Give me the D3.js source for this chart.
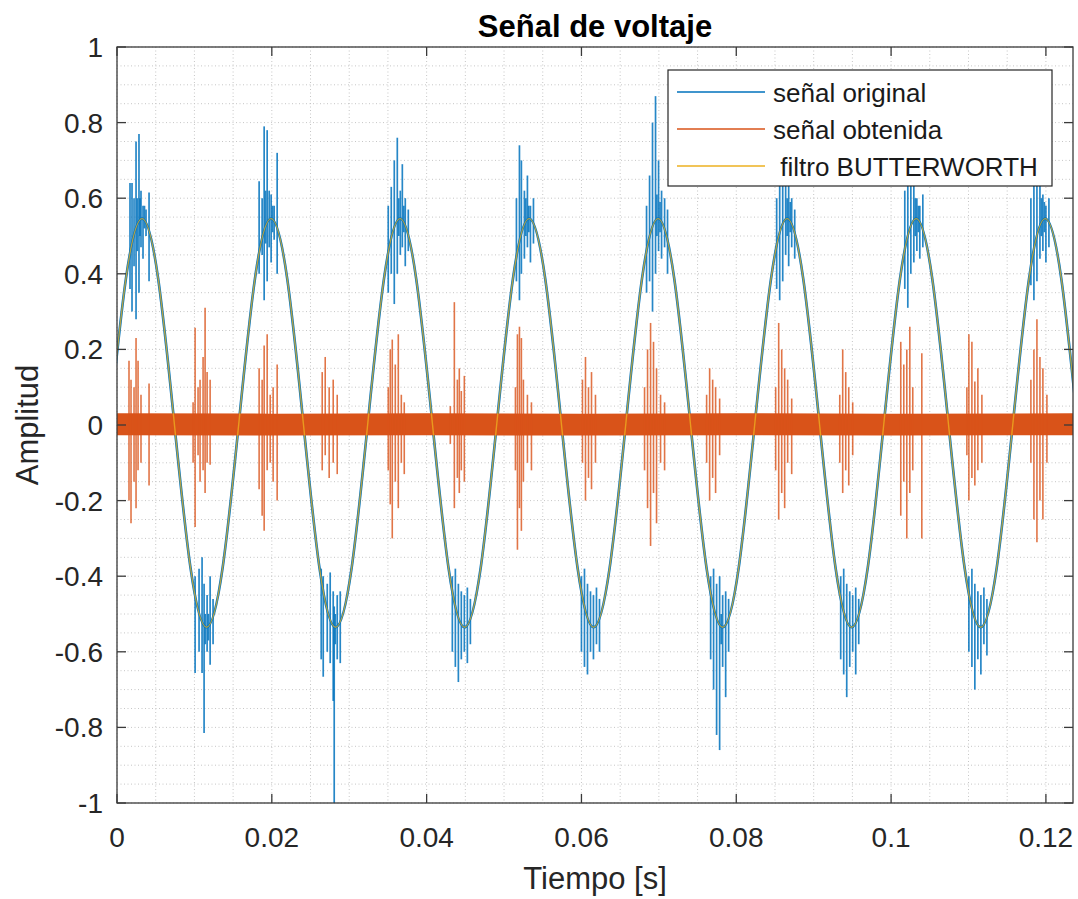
<!DOCTYPE html>
<html>
<head>
<meta charset="utf-8">
<script src="https://cdn.jsdelivr.net/npm/d3@7"></script>
<style>
  html, body { margin: 0; padding: 0; background: #fff; }
  svg { display: block; font-family: "Liberation Sans", Arial, Helvetica, sans-serif; }
  .pre { white-space: pre; }
</style>
</head>
<body>
<svg id="chart" width="1078" height="899"></svg>
<script>
// ---------------- DATA ----------------
const titleText = "Señal de voltaje";
const xLabelText = "Tiempo [s]";
const yLabelText = "Amplitud";
const seriesNames = ["señal original", "señal obtenida", " filtro BUTTERWORTH"];

const xTicks = [0, 0.02, 0.04, 0.06, 0.08, 0.1, 0.12];
const xTickLabels = ["0", "0.02", "0.04", "0.06", "0.08", "0.1", "0.12"];
const yTicks = [-1, -0.8, -0.6, -0.4, -0.2, 0, 0.2, 0.4, 0.6, 0.8, 1];
const yTickLabels = ["-1", "-0.8", "-0.6", "-0.4", "-0.2", "0", "0.2", "0.4", "0.6", "0.8", "1"];
const xDomain = [0, 0.1235];
const yDomain = [-1, 1];

// filtered (Butterworth) curve: sample points (eighth-period spacing)
const filterTimes = [
  -0.00093, 0.00115, 0.00324, 0.00532, 0.00740, 0.00949, 0.01157, 0.01365,
  0.01574, 0.01782, 0.01990, 0.02199, 0.02407, 0.02615, 0.02824, 0.03032,
  0.03240, 0.03449, 0.03657, 0.03865, 0.04074, 0.04282, 0.04490, 0.04699,
  0.04907, 0.05115, 0.05324, 0.05532, 0.05740, 0.05949, 0.06157, 0.06365,
  0.06574, 0.06782, 0.06990, 0.07199, 0.07407, 0.07615, 0.07824, 0.08032,
  0.08240, 0.08449, 0.08657, 0.08865, 0.09074, 0.09282, 0.09490, 0.09699,
  0.09907, 0.10115, 0.10324, 0.10532, 0.10740, 0.10949, 0.11157, 0.11365,
  0.11574, 0.11782, 0.11990, 0.12199, 0.12407, 0.12615
];
const filterValues = [
  0.005, 0.387, 0.546, 0.387, 0.005, -0.377, -0.535, -0.377,
  0.005, 0.387, 0.546, 0.387, 0.005, -0.377, -0.535, -0.377,
  0.005, 0.387, 0.546, 0.387, 0.005, -0.377, -0.535, -0.377,
  0.005, 0.387, 0.546, 0.387, 0.005, -0.377, -0.535, -0.377,
  0.005, 0.387, 0.546, 0.387, 0.005, -0.377, -0.535, -0.377,
  0.005, 0.387, 0.546, 0.387, 0.005, -0.377, -0.535, -0.377,
  0.005, 0.387, 0.546, 0.387, 0.005, -0.377, -0.535, -0.377,
  0.005, 0.387, 0.546, 0.387, 0.005, -0.377
];

// original signal: noise bursts [time, low, high]
const blueSpikes = [
  // peak 1
  [0.00168, 0.36, 0.64], [0.00194, 0.30, 0.64], [0.00220, 0.42, 0.60], [0.00246, 0.28, 0.75],
  [0.00284, 0.35, 0.77], [0.00310, 0.47, 0.62], [0.00336, 0.44, 0.58], [0.00375, 0.50, 0.57], [0.00414, 0.38, 0.615],
  [0.00262, 0.46, 0.60], [0.00297, 0.50, 0.60], [0.00355, 0.52, 0.58],
  // trough 1
  [0.01009, -0.656, -0.40], [0.01060, -0.60, -0.38], [0.01099, -0.656, -0.35], [0.01125, -0.815, -0.42],
  [0.01164, -0.60, -0.45], [0.01203, -0.634, -0.40], [0.01241, -0.58, -0.46],
  [0.01140, -0.58, -0.50], [0.01180, -0.57, -0.50],
  // peak 2
  [0.01836, 0.40, 0.645], [0.01875, 0.45, 0.60], [0.01901, 0.33, 0.79], [0.01940, 0.38, 0.78],
  [0.01966, 0.47, 0.62], [0.01991, 0.43, 0.61], [0.02030, 0.49, 0.58], [0.02069, 0.40, 0.72],
  [0.01920, 0.48, 0.62], [0.02010, 0.51, 0.58],
  // trough 2
  [0.02638, -0.62, -0.38], [0.02664, -0.666, -0.40], [0.02716, -0.60, -0.42], [0.02754, -0.63, -0.39],
  [0.02793, -0.73, -0.44], [0.02806, -1.0, -0.48], [0.02845, -0.62, -0.45], [0.02884, -0.63, -0.44],
  [0.02820, -0.58, -0.50],
  // peak 3
  [0.03504, 0.35, 0.58], [0.03543, 0.40, 0.63], [0.03582, 0.32, 0.70], [0.03621, 0.40, 0.76],
  [0.03660, 0.45, 0.62], [0.03686, 0.47, 0.69], [0.03724, 0.42, 0.60], [0.03763, 0.46, 0.57],
  [0.03640, 0.50, 0.60], [0.03705, 0.51, 0.58],
  // trough 3
  [0.04332, -0.60, -0.40], [0.04371, -0.64, -0.38], [0.04410, -0.68, -0.42], [0.04448, -0.62, -0.44],
  [0.04487, -0.60, -0.45], [0.04526, -0.63, -0.43], [0.04565, -0.58, -0.46],
  // peak 4
  [0.05160, 0.38, 0.60], [0.05199, 0.33, 0.74], [0.05224, 0.40, 0.70], [0.05263, 0.44, 0.62],
  [0.05302, 0.47, 0.66], [0.05341, 0.43, 0.58], [0.05380, 0.48, 0.60],
  [0.05282, 0.50, 0.60], [0.05320, 0.51, 0.58],
  // trough 4
  [0.06000, -0.60, -0.40], [0.06039, -0.64, -0.38], [0.06078, -0.66, -0.42], [0.06117, -0.60, -0.44],
  [0.06155, -0.62, -0.45], [0.06194, -0.58, -0.43], [0.06233, -0.60, -0.46],
  // peak 5
  [0.06841, 0.35, 0.58], [0.06880, 0.38, 0.66], [0.06918, 0.30, 0.80], [0.06957, 0.40, 0.87],
  [0.06996, 0.46, 0.70], [0.07035, 0.44, 0.62], [0.07074, 0.47, 0.60], [0.07112, 0.40, 0.57],
  [0.06975, 0.50, 0.61], [0.07015, 0.51, 0.59],
  // trough 5
  [0.07669, -0.62, -0.40], [0.07707, -0.70, -0.38], [0.07746, -0.82, -0.42], [0.07785, -0.86, -0.40],
  [0.07824, -0.64, -0.45], [0.07863, -0.72, -0.44], [0.07901, -0.60, -0.46],
  [0.07805, -0.58, -0.50],
  // peak 6
  [0.08522, 0.36, 0.60], [0.08561, 0.33, 0.66], [0.08600, 0.38, 0.78], [0.08638, 0.45, 0.70],
  [0.08677, 0.42, 0.72], [0.08716, 0.47, 0.60], [0.08755, 0.44, 0.57],
  [0.08657, 0.50, 0.60], [0.08697, 0.51, 0.59],
  // trough 6
  [0.09349, -0.62, -0.40], [0.09388, -0.66, -0.38], [0.09427, -0.72, -0.42], [0.09466, -0.64, -0.44],
  [0.09504, -0.60, -0.45], [0.09543, -0.66, -0.43], [0.09582, -0.58, -0.46],
  // peak 7
  [0.10177, 0.36, 0.62], [0.10216, 0.31, 0.74], [0.10255, 0.40, 0.66], [0.10294, 0.43, 0.70],
  [0.10333, 0.46, 0.60], [0.10371, 0.44, 0.58], [0.10410, 0.47, 0.61],
  [0.10313, 0.50, 0.60], [0.10352, 0.51, 0.58],
  // trough 7
  [0.11005, -0.60, -0.40], [0.11044, -0.64, -0.38], [0.11082, -0.70, -0.42], [0.11121, -0.62, -0.44],
  [0.11160, -0.66, -0.45], [0.11199, -0.58, -0.43], [0.11238, -0.61, -0.46],
  // peak 8
  [0.11806, 0.37, 0.60], [0.11845, 0.33, 0.66], [0.11884, 0.38, 0.72], [0.11923, 0.44, 0.70],
  [0.11961, 0.46, 0.61], [0.12000, 0.43, 0.58], [0.12039, 0.47, 0.60],
  [0.11942, 0.50, 0.60], [0.11980, 0.51, 0.59]
];

// obtained signal: constant noise band envelope and bursts [time, low, high]
const bandTimes = [0, 0.02, 0.04, 0.06, 0.08, 0.10, 0.1235];
const bandUpper = [0.031, 0.030, 0.031, 0.030, 0.031, 0.030, 0.031];
const bandLower = [-0.027, -0.028, -0.027, -0.028, -0.027, -0.028, -0.027];
const orangeSpikes = [
  [0.00155, -0.20, 0.17], [0.00181, -0.26, 0.12], [0.00220, -0.15, 0.10], [0.00246, -0.22, 0.23],
  [0.00272, -0.12, 0.17], [0.00310, -0.10, 0.08], [0.00414, -0.16, 0.11],
  [0.00983, -0.10, 0.06], [0.01009, -0.27, 0.257], [0.01047, -0.08, 0.10], [0.01073, -0.15, 0.12],
  [0.01112, -0.12, 0.18], [0.01138, -0.18, 0.31], [0.01164, -0.10, 0.14], [0.01203, -0.105, 0.12],
  [0.01836, -0.17, 0.15], [0.01875, -0.24, 0.12], [0.01901, -0.28, 0.21], [0.01940, -0.12, 0.24],
  [0.01979, -0.10, 0.08], [0.02017, -0.15, 0.10], [0.02069, -0.20, 0.16],
  [0.02651, -0.12, 0.14], [0.02690, -0.08, 0.18], [0.02741, -0.14, 0.10], [0.02793, -0.10, 0.12], [0.02845, -0.13, 0.08],
  [0.03504, -0.12, 0.10], [0.03530, -0.21, 0.20], [0.03556, -0.30, 0.226], [0.03595, -0.15, 0.16],
  [0.03634, -0.22, 0.24], [0.03673, -0.10, 0.08], [0.03711, -0.13, 0.06],
  [0.04306, -0.05, 0.05], [0.04358, -0.22, 0.325], [0.04397, -0.14, 0.12], [0.04422, -0.18, 0.15],
  [0.04448, -0.12, 0.09], [0.04487, -0.15, 0.13],
  [0.05147, -0.12, 0.10], [0.05173, -0.33, 0.24], [0.05199, -0.22, 0.26], [0.05224, -0.28, 0.23],
  [0.05250, -0.15, 0.12], [0.05302, -0.10, 0.08], [0.05354, -0.12, 0.06],
  [0.06013, -0.10, 0.12], [0.06052, -0.20, 0.18], [0.06091, -0.14, 0.10], [0.06130, -0.17, 0.14], [0.06181, -0.10, 0.08],
  [0.06815, -0.12, 0.10], [0.06854, -0.22, 0.20], [0.06893, -0.32, 0.27], [0.06931, -0.18, 0.22],
  [0.06970, -0.26, 0.15], [0.07022, -0.10, 0.08], [0.07074, -0.12, 0.06],
  [0.07617, -0.10, 0.08], [0.07656, -0.20, 0.15], [0.07695, -0.14, 0.12], [0.07733, -0.18, 0.10], [0.07785, -0.08, 0.07],
  [0.08509, -0.12, 0.10], [0.08548, -0.25, 0.27], [0.08587, -0.18, 0.20], [0.08625, -0.22, 0.15],
  [0.08664, -0.10, 0.12], [0.08716, -0.13, 0.07],
  [0.09337, -0.10, 0.08], [0.09375, -0.18, 0.20], [0.09414, -0.12, 0.14], [0.09453, -0.16, 0.10], [0.09504, -0.08, 0.06],
  [0.10125, -0.24, 0.22], [0.10164, -0.15, 0.16], [0.10203, -0.30, 0.20], [0.10242, -0.18, 0.26],
  [0.10280, -0.12, 0.10], [0.10397, -0.30, 0.19],
  [0.10979, -0.08, 0.10], [0.11005, -0.20, 0.24], [0.11044, -0.14, 0.22], [0.11082, -0.16, 0.115],
  [0.11121, -0.12, 0.15], [0.11173, -0.10, 0.08],
  [0.11806, -0.10, 0.12], [0.11845, -0.25, 0.20], [0.11884, -0.31, 0.28], [0.11923, -0.20, 0.18],
  [0.11961, -0.25, 0.15], [0.12013, -0.10, 0.08]
];

// ---------------- DRAWING ----------------
const colors = { blue: "#0072BD", orange: "#D95319", yellow: "#EDB120" };
const L = 117, R = 1073, T = 47, B = 803;
const svg = d3.select("#chart");
const x = d3.scaleLinear().domain(xDomain).range([L, R]);
const y = d3.scaleLinear().domain(yDomain).range([B, T]);

svg.append("defs").append("clipPath").attr("id", "clip")
  .append("rect").attr("x", L).attr("y", T).attr("width", R - L).attr("height", B - T);

// grid (minor every 0.005 / 0.05, major at ticks) - dotted
const gridG = svg.append("g");
const xMinor = d3.range(0, xDomain[1] + 1e-9, 0.005);
const yMinor = d3.range(-1, 1 + 1e-9, 0.05);
gridG.selectAll(".gx").data(xMinor).join("line")
  .attr("x1", d => x(d)).attr("x2", d => x(d)).attr("y1", T).attr("y2", B)
  .attr("stroke", "#c6c6c6").attr("stroke-width", 1).attr("stroke-dasharray", "1,2.5");
gridG.selectAll(".gy").data(yMinor).join("line")
  .attr("x1", L).attr("x2", R).attr("y1", d => y(d)).attr("y2", d => y(d))
  .attr("stroke", "#c6c6c6").attr("stroke-width", 1).attr("stroke-dasharray", "1,2.5");

const plot = svg.append("g").attr("clip-path", "url(#clip)");
const filterPts = filterTimes.map((t, i) => [t, filterValues[i]]);
const line = d3.line().x(d => x(d[0])).y(d => y(d[1])).curve(d3.curveNatural);

// original signal
plot.append("path").datum(filterPts).attr("d", line)
  .attr("fill", "none").attr("stroke", colors.blue).attr("stroke-width", 2.6);
plot.append("g").selectAll("line").data(blueSpikes).join("line")
  .attr("x1", d => x(d[0])).attr("x2", d => x(d[0]))
  .attr("y1", d => y(d[1])).attr("y2", d => y(d[2]))
  .attr("stroke", colors.blue).attr("stroke-width", 1.7).attr("stroke-opacity", 0.85);

// obtained signal
const bandPts = bandTimes.map((t, i) => [t, bandLower[i], bandUpper[i]]);
plot.append("path").datum(bandPts)
  .attr("d", d3.area().x(d => x(d[0])).y0(d => y(d[1])).y1(d => y(d[2])))
  .attr("fill", colors.orange);
plot.append("g").selectAll("line").data(orangeSpikes).join("line")
  .attr("x1", d => x(d[0])).attr("x2", d => x(d[0]))
  .attr("y1", d => y(d[1])).attr("y2", d => y(d[2]))
  .attr("stroke", colors.orange).attr("stroke-width", 1.6).attr("stroke-opacity", 0.8);

// Butterworth filter
plot.append("path").datum(filterPts).attr("d", line)
  .attr("fill", "none").attr("stroke", colors.yellow).attr("stroke-width", 1.4)
  .attr("stroke-opacity", 0.75);

// axes box
const axisColor = "#3a3a3a";
svg.append("rect").attr("x", L).attr("y", T).attr("width", R - L).attr("height", B - T)
  .attr("fill", "none").attr("stroke", axisColor).attr("stroke-width", 1.3);

// ticks (inward, all four sides)
const tickLen = 9;
const tg = svg.append("g").attr("stroke", axisColor).attr("stroke-width", 1.3);
tg.selectAll(".xb").data(xTicks).join("line")
  .attr("x1", d => x(d)).attr("x2", d => x(d)).attr("y1", B).attr("y2", B - tickLen);
tg.selectAll(".xt").data(xTicks).join("line")
  .attr("x1", d => x(d)).attr("x2", d => x(d)).attr("y1", T).attr("y2", T + tickLen);
tg.selectAll(".yl").data(yTicks).join("line")
  .attr("x1", L).attr("x2", L + tickLen).attr("y1", d => y(d)).attr("y2", d => y(d));
tg.selectAll(".yr").data(yTicks).join("line")
  .attr("x1", R).attr("x2", R - tickLen).attr("y1", d => y(d)).attr("y2", d => y(d));

// tick labels
const labelColor = "#262626";
svg.append("g").selectAll("text").data(xTicks).join("text")
  .attr("x", d => x(d)).attr("y", B + 44)
  .attr("text-anchor", "middle").attr("font-size", 28).attr("fill", labelColor)
  .text((d, i) => xTickLabels[i]);
svg.append("g").selectAll("text").data(yTicks).join("text")
  .attr("x", L - 14).attr("y", d => y(d) + 10)
  .attr("text-anchor", "end").attr("font-size", 28).attr("fill", labelColor)
  .text((d, i) => yTickLabels[i]);

// titles
svg.append("text").attr("x", (L + R) / 2).attr("y", 37)
  .attr("text-anchor", "middle").attr("font-size", 31).attr("font-weight", "bold")
  .attr("fill", "#000").text(titleText);
svg.append("text").attr("x", (L + R) / 2).attr("y", 889)
  .attr("text-anchor", "middle").attr("font-size", 31).attr("fill", labelColor).text(xLabelText);
svg.append("text").attr("transform", `translate(38,${(T + B) / 2}) rotate(-90)`)
  .attr("text-anchor", "middle").attr("font-size", 31).attr("fill", labelColor).text(yLabelText);

// legend
const lg = svg.append("g");
lg.append("rect").attr("x", 668).attr("y", 70).attr("width", 384).attr("height", 116)
  .attr("fill", "#fff").attr("stroke", "#262626").attr("stroke-width", 1.2);
const legColors = [colors.blue, colors.orange, colors.yellow];
const rowY = [92, 129, 166];
seriesNames.forEach((name, i) => {
  lg.append("line").attr("x1", 677).attr("x2", 765).attr("y1", rowY[i]).attr("y2", rowY[i])
    .attr("stroke", legColors[i]).attr("stroke-width", 1.6);
  lg.append("text").attr("class", "pre").attr("x", 773).attr("y", rowY[i] + 10)
    .attr("font-size", 26).attr("fill", "#1a1a1a").text(name);
});
</script>
</body>
</html>
